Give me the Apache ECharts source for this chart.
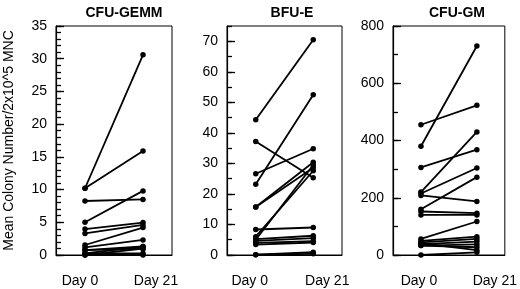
<!DOCTYPE html>
<html>
<head>
<meta charset="utf-8">
<script src="https://cdn.jsdelivr.net/npm/echarts@6/dist/echarts.min.js"></script>
<style>
  html, body { margin: 0; padding: 0; background: #fff; }
  #chart { width: 520px; height: 289px; }
</style>
</head>
<body>
<div id="chart"></div>
<script>
var days = ['Day 0', 'Day 21']
var titles = ['CFU-GEMM', 'BFU-E', 'CFU-GM']
var yMax = [35, 75, 800]
var yStep = [5, 10, 200]
var yMinorStep = [1, 5, 100]

// each panel: paired values, day 0 and day 21
var gemmDay0 = [10.2, 10.2, 8.25, 5.0, 3.97, 3.3, 1.53, 1.17, 0.76, 0.76, 0.25, 0.25, 0, 0]
var gemmDay21 = [30.6, 15.9, 8.5, 9.8, 4.95, 4.6, 4.2, 2.3, 1.3, 0.97, 0.26, 1.3, 0.97, 0]

var bfuDay0 = [44.3, 23.2, 37.2, 26.6, 15.7, 15.7, 6.0, 5.0, 8.35, 5.2, 4.6, 4.0, 3.4, 0.1, 0.1]
var bfuDay21 = [70.5, 52.5, 25.3, 34.8, 30.4, 28.6, 27.6, 29.5, 9.0, 6.3, 5.5, 4.5, 4.1, 0.9, 0.4]

var gmDay0 = [380, 455, 306, 220, 215, 208, 160, 152, 140, 56, 49, 44, 38, 33, 33, 41, 0]
var gmDay21 = [730, 523, 368, 430, 304, 187, 272, 146, 140, 117, 64, 56, 47, 37, 27, 17, 9.5]

var panels = [
  { d0: gemmDay0, d21: gemmDay21 },
  { d0: bfuDay0, d21: bfuDay21 },
  { d0: gmDay0, d21: gmDay21 }
]

var layout = [
  { left: 56, width: 116, titleX: 119, shiftA: 5, shiftB: 13 },
  { left: 227, width: 115, titleX: 287, shiftA: 6, shiftB: 14 },
  { left: 393, width: 112, titleX: 452, shiftA: 2, shiftB: 18 }
]

var font = 'Liberation Sans, Arial, sans-serif'
var chart = echarts.init(document.getElementById('chart'))

var grid = [], xAxis = [], yAxis = [], series = [], title = []

layout.forEach(function(l, i) {
  grid.push({
    left: l.left, width: l.width, top: 26, height: 229,
    show: true, borderColor: '#000', borderWidth: 1, backgroundColor: 'transparent'
  })
  title.push({
    text: titles[i], left: l.titleX, top: 1, textAlign: 'center',
    textStyle: { fontFamily: font, fontSize: 14, fontWeight: 'bold', color: '#000' }
  })
  xAxis.push({
    type: 'category', gridIndex: i, data: days, boundaryGap: true,
    axisLine: { lineStyle: { color: '#000', width: 1 } },
    axisTick: { show: false },
    axisLabel: {
      interval: 0, margin: 19,
      formatter: function(v) { return v === 'Day 0' ? '{a|' + v + '}' : '{b|' + v + '}' },
      rich: {
        a: { fontFamily: font, fontSize: 14, color: '#000', padding: [0, l.shiftA * 2, 0, 0] },
        b: { fontFamily: font, fontSize: 14, color: '#000', padding: [0, 0, 0, l.shiftB * 2] }
      }
    }
  })
  // major ticks + labels
  yAxis.push({
    type: 'value', gridIndex: i, min: 0, max: yMax[i], interval: yStep[i],
    splitLine: { show: false },
    axisLine: { show: true, lineStyle: { color: '#000', width: 1.2 } },
    axisTick: { show: true, inside: true, length: 8, lineStyle: { color: '#000', width: 1.3 } },
    axisLabel: {
      margin: 9, showMaxLabel: yMax[i] % yStep[i] === 0,
      fontFamily: font, fontSize: 14, color: '#000'
    },
    name: i === 0 ? 'Mean Colony Number/2x10^5 MNC' : '',
    nameLocation: 'middle', nameRotate: 90, nameGap: 40,
    nameTextStyle: { fontFamily: font, fontSize: 14, color: '#000' }
  })
  // minor ticks
  yAxis.push({
    type: 'value', gridIndex: i, min: 0, max: yMax[i], interval: yMinorStep[i],
    position: 'left',
    splitLine: { show: false },
    axisLine: { show: false },
    axisTick: { show: true, inside: true, length: 5, lineStyle: { color: '#000', width: 1.3 } },
    axisLabel: { show: false }
  })

  var p = panels[i]
  p.d0.forEach(function(v, k) {
    series.push({
      type: 'line', xAxisIndex: i, yAxisIndex: i * 2,
      data: [v, p.d21[k]],
      symbol: 'circle', symbolSize: 5.5,
      itemStyle: { color: '#000' },
      lineStyle: { color: '#000', width: 1.8 },
      silent: true
    })
  })
})

chart.setOption({
  animation: false,
  title: title,
  grid: grid,
  xAxis: xAxis,
  yAxis: yAxis,
  series: series
})
</script>
</body>
</html>
